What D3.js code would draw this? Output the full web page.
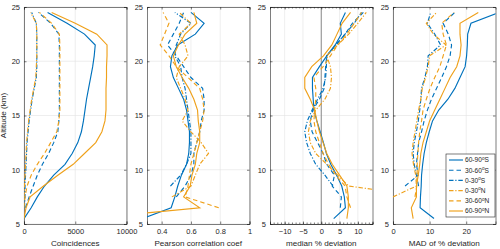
<!DOCTYPE html>
<html>
<head>
<meta charset="utf-8">
<script src="https://cdn.jsdelivr.net/npm/d3@7"></script>
<style>
body { margin: 0; background: #fff; }
text { font-family: "Liberation Sans", Arial, Helvetica, sans-serif; fill: #262626; }
</style>
</head>
<body>
<div id="chart"></div>
<script>
// altitude bin centres (km)
var altitudes = [5.5, 6.5, 7.5, 8.5, 9.5, 10.5, 11.5, 12.5, 13.5, 14.5,
	15.5, 16.5, 17.5, 18.5, 19.5, 20.5, 21.5, 22.5, 23.5, 24.5];
var bands = ["60-90", "30-60", "0-30", "0-30", "30-60", "60-90"];
var hemis = ["S", "S", "S", "N", "N", "N"];

// one row per band, same order as bands
var coincidences = [
	[0, 700, 1300, 2000, 2900, 4000, 4700, 5250, 5600, 5800, 5950, 6100, 6300, 6500, 6700, 6850, 6950, 5900, 4200, 2300],
	[null, 150, 500, 900, 1300, 1800, 2400, 2900, 3300, 3400, 3450, 3450, 3450, 3450, 3450, 3450, 3450, 3400, 2600, 1400],
	[null, 50, 100, 100, 150, 200, 250, 300, 400, 500, 650, 800, 1000, 1200, 1250, 1250, 1250, 1250, 1200, 750],
	[null, null, 0, 50, 100, 150, 200, 250, 350, 450, 600, 750, 950, 1150, 1200, 1250, 1250, 1250, 1200, 650],
	[null, 0, 100, 300, 700, 1300, 2000, 2600, 3200, 3400, 3500, 3500, 3500, 3500, 3500, 3500, 3500, 3450, 2700, 1500],
	[0, 200, 600, 1900, 3300, 4800, 5900, 7000, 7600, 7900, 8000, 8000, 8000, 8050, 8050, 8100, 8100, 7100, 5000, 2700]
];
var pearson = [
	[0.27, 0.465, 0.49, 0.51, 0.535, 0.57, 0.585, 0.59, 0.59, 0.58, 0.57, 0.55, 0.515, 0.48, 0.46, 0.47, 0.51, 0.63, 0.69, 0.60],
	[null, null, 0.5, 0.56, 0.6, 0.62, 0.62, 0.64, 0.66, 0.67, 0.69, 0.69, 0.68, 0.6, 0.55, 0.5, 0.44, 0.48, 0.52, 0.55],
	[null, null, null, 0.46, 0.53, 0.57, 0.6, 0.6, 0.6, 0.59, 0.58, 0.57, 0.56, 0.54, 0.53, 0.49, 0.5, 0.53, 0.6, 0.49],
	[null, null, 0.47, 0.6, 0.63, 0.66, 0.72, 0.67, 0.6, 0.54, 0.58, 0.56, 0.53, 0.5, 0.52, 0.58, 0.56, 0.52, 0.6, 0.52],
	[null, 0.79, 0.56, 0.58, 0.59, 0.6, 0.62, 0.64, 0.66, 0.68, 0.69, 0.68, 0.66, 0.58, 0.5, 0.45, 0.39, 0.42, 0.45, 0.41],
	[-0.1, 0.66, 0.55, 0.595, 0.607, 0.63, 0.64, 0.66, 0.66, 0.65, 0.645, 0.62, 0.585, 0.54, 0.5, 0.48, 0.515, 0.56, 0.64, 0.62]
];
var medianDev = [
	[3.4, 6.6, 6.3, 5.6, 4.2, 2.6, 1.4, 0.6, -0.3, -1.2, -2.0, -2.2, -2.4, -2.4, -0.5, 1.5, 3.8, 5.5, 5.2, 6.6],
	[null, 5.2, 5.5, 3.0, 3.6, 1.5, 0.5, -1.0, -2.5, -3.0, -2.3, -0.5, 0.8, 1.0, 1.2, 1.5, 4.0, 6.5, 8.5, 11.5],
	[null, null, null, 3.2, 1.0, -1.5, -3.0, -4.0, -4.5, -3.8, -2.5, -1.0, 0.5, 1.2, 1.4, 1.5, 4.0, 6.5, 9.0, 11.0],
	[null, null, 29, 7.5, 4.5, 1.5, -1.5, -3.0, -3.5, -3.0, -1.5, 1.0, 2.5, 2.8, 2.5, 1.5, 4.5, 7.5, 10.0, 12.3],
	[null, 8.0, 7.0, 6.5, 4.0, 2.0, 0.5, -0.5, -1.5, -2.0, -1.8, -1.5, -1.5, -2.0, 0.5, 2.5, 4.5, 7.0, 9.0, 11.0],
	[7.0, 7.4, 7.4, 7.0, 5.0, 3.0, 1.5, 0.5, -0.5, -1.2, -1.8, -3.0, -4.5, -4.5, -2.6, 0.6, 2.9, 4.3, 5.7, 8.0]
];
var madDev = [
	[11.2, 7.4, 7.5, 7.7, 7.8, 8.1, 8.5, 9.1, 9.9, 10.8, 12.5, 15.0, 16.9, 18.3, 19.7, 20.1, 20.3, 20.4, 21.3, 29],
	[null, null, null, 3.3, 6.9, 6.4, 6.7, 7.0, 7.8, 8.5, 9.4, 10.5, 11.9, 13.3, 14.6, 15.6, 16.0, 15.1, 13.7, 16.9],
	[null, null, null, 7.0, 6.4, 5.8, 5.5, 5.8, 6.4, 6.9, 7.3, 7.6, 7.8, 8.7, 9.4, 9.6, 13.0, 11.4, 9.4, 10.3],
	[null, null, 0, 6.4, 6.2, 5.6, 5.2, 5.5, 6.0, 6.5, 7.0, 7.6, 8.0, 8.9, 9.6, 10.0, 14.5, 11.0, 9.1, 11.9],
	[null, null, 6.0, 6.5, 6.6, 6.6, 6.8, 7.0, 7.3, 7.8, 8.2, 9.1, 10.1, 11.4, 12.8, 13.7, 14.6, 13.7, 13.3, 16.7],
	[5.5, 5.0, 6.4, 6.4, 6.9, 7.3, 7.6, 8.2, 9.1, 10.0, 11.4, 12.8, 14.2, 15.6, 17.4, 18.3, 18.6, 18.3, 18.3, 23.3]
];

var altTicks = [5, 10, 15, 20, 25];
var coincTicks = [0, 5000, 10000];
var pearsonTicks = [0.4, 0.6, 0.8, 1];
var medianTicks = [-10, -5, 0, 5, 10];
var madTicks = [0, 10, 20];

var colors = ["#0072BD", "#0072BD", "#0072BD", "#EFA11B", "#EFA11B", "#EFA11B"];
var dashes = [null, "4.5,3", "4.5,1.8,1.2,1.8", "4.5,1.8,1.2,1.8", "4.5,3", null];

var panels = [
	{ data: coincidences, domain: [0, 10000], ticks: coincTicks, label: "Coincidences" },
	{ data: pearson, domain: [0.3, 1], ticks: pearsonTicks, label: "Pearson correlation coef" },
	{ data: medianDev, domain: [-14, 14], ticks: medianTicks, label: "median % deviation", minor: 1, zero: true },
	{ data: madDev, domain: [0, 28], ticks: madTicks, label: "MAD of % deviation", legend: true }
];

var W = 500, H = 249;
var yTop = 7, yBottom = 224, pw = 102.5, gap = 123;

var svg = d3.select("#chart").append("svg")
	.attr("width", W).attr("height", H);

var y = d3.scaleLinear().domain([5, 25]).range([yBottom, yTop]);

panels.forEach(function(p, pi) {
	var x0 = 24 + pi * gap;
	var x = d3.scaleLinear().domain(p.domain).range([x0, x0 + pw]);
	var g = svg.append("g");

	g.append("clipPath").attr("id", "clip" + pi)
		.append("rect")
		.attr("x", x0).attr("y", yTop)
		.attr("width", pw).attr("height", yBottom - yTop);

	// grid
	g.selectAll(".vg").data(p.ticks).enter().append("line")
		.attr("x1", function(d) { return x(d); })
		.attr("x2", function(d) { return x(d); })
		.attr("y1", yTop).attr("y2", yBottom)
		.attr("stroke", "#e3e3e3").attr("stroke-width", 0.6);
	g.selectAll(".hg").data(altTicks).enter().append("line")
		.attr("x1", x0).attr("x2", x0 + pw)
		.attr("y1", function(d) { return y(d); })
		.attr("y2", function(d) { return y(d); })
		.attr("stroke", "#e3e3e3").attr("stroke-width", 0.6);

	if (p.zero) {
		g.append("line")
			.attr("x1", x(0)).attr("x2", x(0))
			.attr("y1", yTop).attr("y2", yBottom)
			.attr("stroke", "#8c8c8c").attr("stroke-width", 1);
	}

	// axes, ticks inside
	var xb = d3.axisBottom(x).tickValues(p.ticks).tickSize(-2.5).tickPadding(5)
		.tickFormat(d3.format(""));
	var xt = d3.axisTop(x).tickValues(p.ticks).tickSize(-2.5).tickFormat("");
	var yl = d3.axisLeft(y).tickValues(altTicks).tickSize(-2.5).tickPadding(4)
		.tickFormat(d3.format(""));
	var yr = d3.axisRight(y).tickValues(altTicks).tickSize(-2.5).tickFormat("");

	g.append("g").attr("transform", "translate(0," + yBottom + ")").call(xb);
	g.append("g").attr("transform", "translate(0," + yTop + ")").call(xt);
	g.append("g").attr("transform", "translate(" + x0 + ",0)").call(yl);
	g.append("g").attr("transform", "translate(" + (x0 + pw) + ",0)").call(yr);

	if (p.minor) {
		var minorTicks = d3.range(p.domain[0], p.domain[1] + 0.001, p.minor);
		g.append("g").attr("transform", "translate(0," + yBottom + ")")
			.call(d3.axisBottom(x).tickValues(minorTicks).tickSize(-1.5).tickFormat(""));
		g.append("g").attr("transform", "translate(0," + yTop + ")")
			.call(d3.axisTop(x).tickValues(minorTicks).tickSize(-1.5).tickFormat(""));
	}

	g.selectAll(".domain").attr("stroke", "#262626").attr("stroke-width", 0.6);
	g.selectAll(".tick line").attr("stroke", "#262626").attr("stroke-width", 0.6);
	g.selectAll(".tick text").attr("font-size", "7.5px")
		.attr("font-family", "'Liberation Sans', Arial, sans-serif").attr("fill", "#262626");

	// series
	var line = d3.line()
		.defined(function(d) { return d[0] != null; })
		.x(function(d) { return x(d[0]); })
		.y(function(d) { return y(d[1]); });

	var lines = g.append("g").attr("clip-path", "url(#clip" + pi + ")");
	p.data.forEach(function(vals, si) {
		var pts = vals.map(function(v, i) { return [v, altitudes[i]]; });
		lines.append("path")
			.attr("d", line(pts))
			.attr("fill", "none")
			.attr("stroke", colors[si])
			.attr("stroke-width", 1.15)
			.attr("stroke-dasharray", dashes[si]);
	});

	g.append("text")
		.attr("x", x0 + pw / 2).attr("y", 246)
		.attr("text-anchor", "middle")
		.style("font-size", "8.1px")
		.text(p.label);

	if (p.legend) {
		var lx = 446, ly = 154, lw = 49, lh = 63;
		var lg = g.append("g");
		lg.append("rect")
			.attr("x", lx).attr("y", ly).attr("width", lw).attr("height", lh)
			.attr("fill", "#fff").attr("stroke", "#262626").attr("stroke-width", 0.6);
		bands.forEach(function(b, si) {
			var ry = ly + 6 + si * 10.2;
			lg.append("line")
				.attr("x1", lx + 3).attr("x2", lx + 17)
				.attr("y1", ry).attr("y2", ry)
				.attr("stroke", colors[si]).attr("stroke-width", 1.15)
				.attr("stroke-dasharray", dashes[si]);
			var t = lg.append("text")
				.attr("x", lx + 19).attr("y", ry + 2.4)
				.style("font-size", "6.6px");
			t.append("tspan").text(b);
			t.append("tspan").attr("dy", -2.6).style("font-size", "4.6px").text("o");
			t.append("tspan").attr("dy", 2.6).text(hemis[si]);
		});
	}
});

svg.append("text")
	.attr("transform", "translate(6," + ((yTop + yBottom) / 2) + ") rotate(-90)")
	.attr("text-anchor", "middle")
	.style("font-size", "8.1px")
	.text("Altitude (km)");
</script>
</body>
</html>
